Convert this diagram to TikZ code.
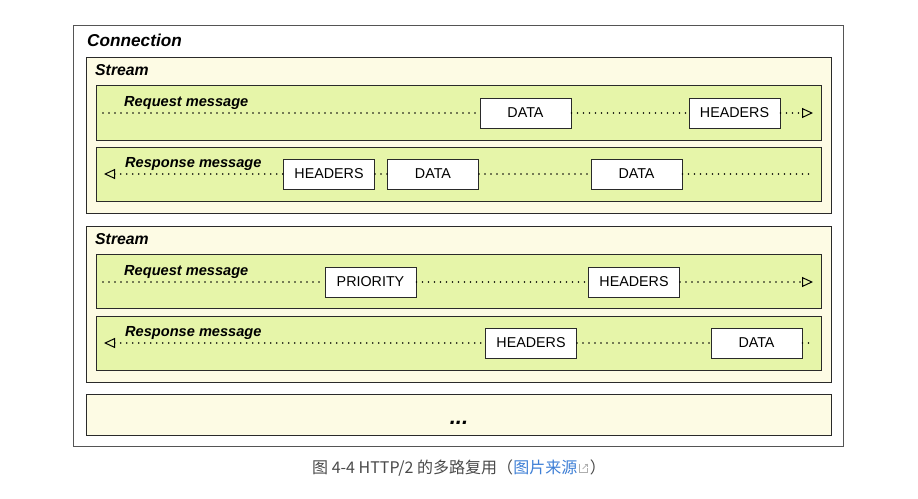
\documentclass[tikz,border=0pt]{standalone}
\usepackage{fontspec}
\setmainfont{Liberation Sans}
\newfontfamily\cjk{Noto Sans CJK SC}
\usetikzlibrary{arrows.meta,calc}
\definecolor{cream}{HTML}{FDFBE4}
\definecolor{lime}{HTML}{E6F5A9}
\definecolor{edge}{HTML}{2A2A2A}
\definecolor{capgray}{HTML}{4A4A4A}
\definecolor{linkblue}{HTML}{3E7FD6}
\tikzset{
  connbox/.style={draw=edge!80, line width=0.8pt, fill=white},
  streambox/.style={draw=edge, line width=0.8pt, fill=cream},
  msgbox/.style={draw=edge, line width=0.8pt, fill=lime},
  frame/.style={draw=edge, line width=0.8pt, fill=white, minimum width=91pt, minimum height=30pt, inner sep=0pt, font=\fontsize{14.3}{16}\selectfont},
  title/.style={anchor=base west, inner sep=0pt, font=\bfseries\itshape\fontsize{14.6}{16}\selectfont},
  stitle/.style={anchor=base west, inner sep=0pt, font=\bfseries\itshape\fontsize{15.8}{17}\selectfont},
  dotline/.style={draw=black, line width=1.7pt, line cap=round, dash pattern=on 0pt off 6pt},
  tipR/.style={dotline, -{Triangle[open, length=11pt, width=10pt, line width=1pt, line cap=butt]}},
  tipL/.style={dotline, {Triangle[open, length=11pt, width=10pt, line width=1pt, line cap=butt]}-},
  captext/.style={anchor=base west, inner sep=0pt, font=\cjk\fontsize{16}{18}\selectfont, text=capgray},
}
\begin{document}
\begin{tikzpicture}[x=1pt, y=-1pt]
\useasboundingbox[fill=white] (0,0) rectangle (918,498);
% connection
\path[connbox] (73,25) rectangle (843,446);
\node[anchor=base west, inner sep=0pt, font=\bfseries\itshape\fontsize{17.2}{19}\selectfont] (conn) at (87,46) {Connection};
% stream 1
\path[streambox] (86,57) rectangle (831,213);
\node[stitle] (s1) at (95,75.5) {Stream};
\path[msgbox] (96,85) rectangle (821,140);
\node[title] (rq1) at (124,106) {Request message};
\path[msgbox] (96,147) rectangle (821,201);
\node[title] (rs1) at (125,167.5) {Response message};
% stream 2
\path[streambox] (86,226) rectangle (831,382);
\node[stitle] (s2) at (95,244.5) {Stream};
\path[msgbox] (96,254) rectangle (821,308);
\node[title] (rq2) at (124,275) {Request message};
\path[msgbox] (96,316) rectangle (821,370);
\node[title] (rs2) at (125,336) {Response message};
% more
\path[streambox] (86,394) rectangle (831,435);
\node[anchor=base, font=\bfseries\itshape\fontsize{22}{22}\selectfont, inner sep=0pt] (more) at (459,424) {...};

% frames stream 1 request
\node[frame] (d1) at (525.5,113) {DATA};
\node[frame] (h1) at (734.5,113) {HEADERS};
\coordinate (a1s) at (103,113);
\coordinate (a1e) at (813,113);
\draw[dotline] (a1s) -- (d1.west);
\draw[dotline] (d1.east) -- (h1.west);
\draw[tipR] (h1.east) -- (a1e);
% stream 1 response
\node[frame] (h2) at (329,174) {HEADERS};
\node[frame] (d2) at (433,174) {DATA};
\node[frame] (d3) at (636.5,174) {DATA};
\coordinate (a2s) at (813,174);
\coordinate (a2e) at (104,174);
\draw[tipL] (a2e) -- (h2.west);
\draw[dotline] (h2.east) -- (d2.west);
\draw[dotline] (d2.east) -- (d3.west);
\draw[dotline] (d3.east) -- (a2s);
% stream 2 request
\node[frame] (p1) at (370.5,282) {PRIORITY};
\node[frame] (h3) at (634,282) {HEADERS};
\coordinate (a3s) at (103,282);
\coordinate (a3e) at (813,282);
\draw[dotline] (a3s) -- (p1.west);
\draw[dotline] (p1.east) -- (h3.west);
\draw[tipR] (h3.east) -- (a3e);
% stream 2 response
\node[frame] (h4) at (531,343) {HEADERS};
\node[frame] (d4) at (756.5,343) {DATA};
\coordinate (a4s) at (813,343);
\coordinate (a4e) at (104,343);
\draw[tipL] (a4e) -- (h4.west);
\draw[dotline] (h4.east) -- (d4.west);
\draw[dotline] (d4.east) -- (a4s);

% caption
\node[captext] (cap1) at (312,473) {图 4-4 HTTP/2 的多路复用（};
\node[captext, text=linkblue] (cap2) at (cap1.base east) {图片来源};
\coordinate (ic) at ($(cap2.base east)+(2,-1)$);
\node[captext] (cap3) at ($(cap2.base east)+(12,0)$) {）};
\draw[capgray!45, line width=0.7pt] ($(ic)+(0,-8)$) -- ($(ic)+(0,0)$) -- ($(ic)+(8,0)$) -- ($(ic)+(8,-4)$);
\draw[capgray!45, line width=0.7pt] ($(ic)+(3,-3)$) -- ($(ic)+(8,-8)$);
\draw[capgray!45, line width=0.7pt] ($(ic)+(5,-8)$) -- ($(ic)+(8,-8)$) -- ($(ic)+(8,-5.5)$);
\end{tikzpicture}
\end{document}
